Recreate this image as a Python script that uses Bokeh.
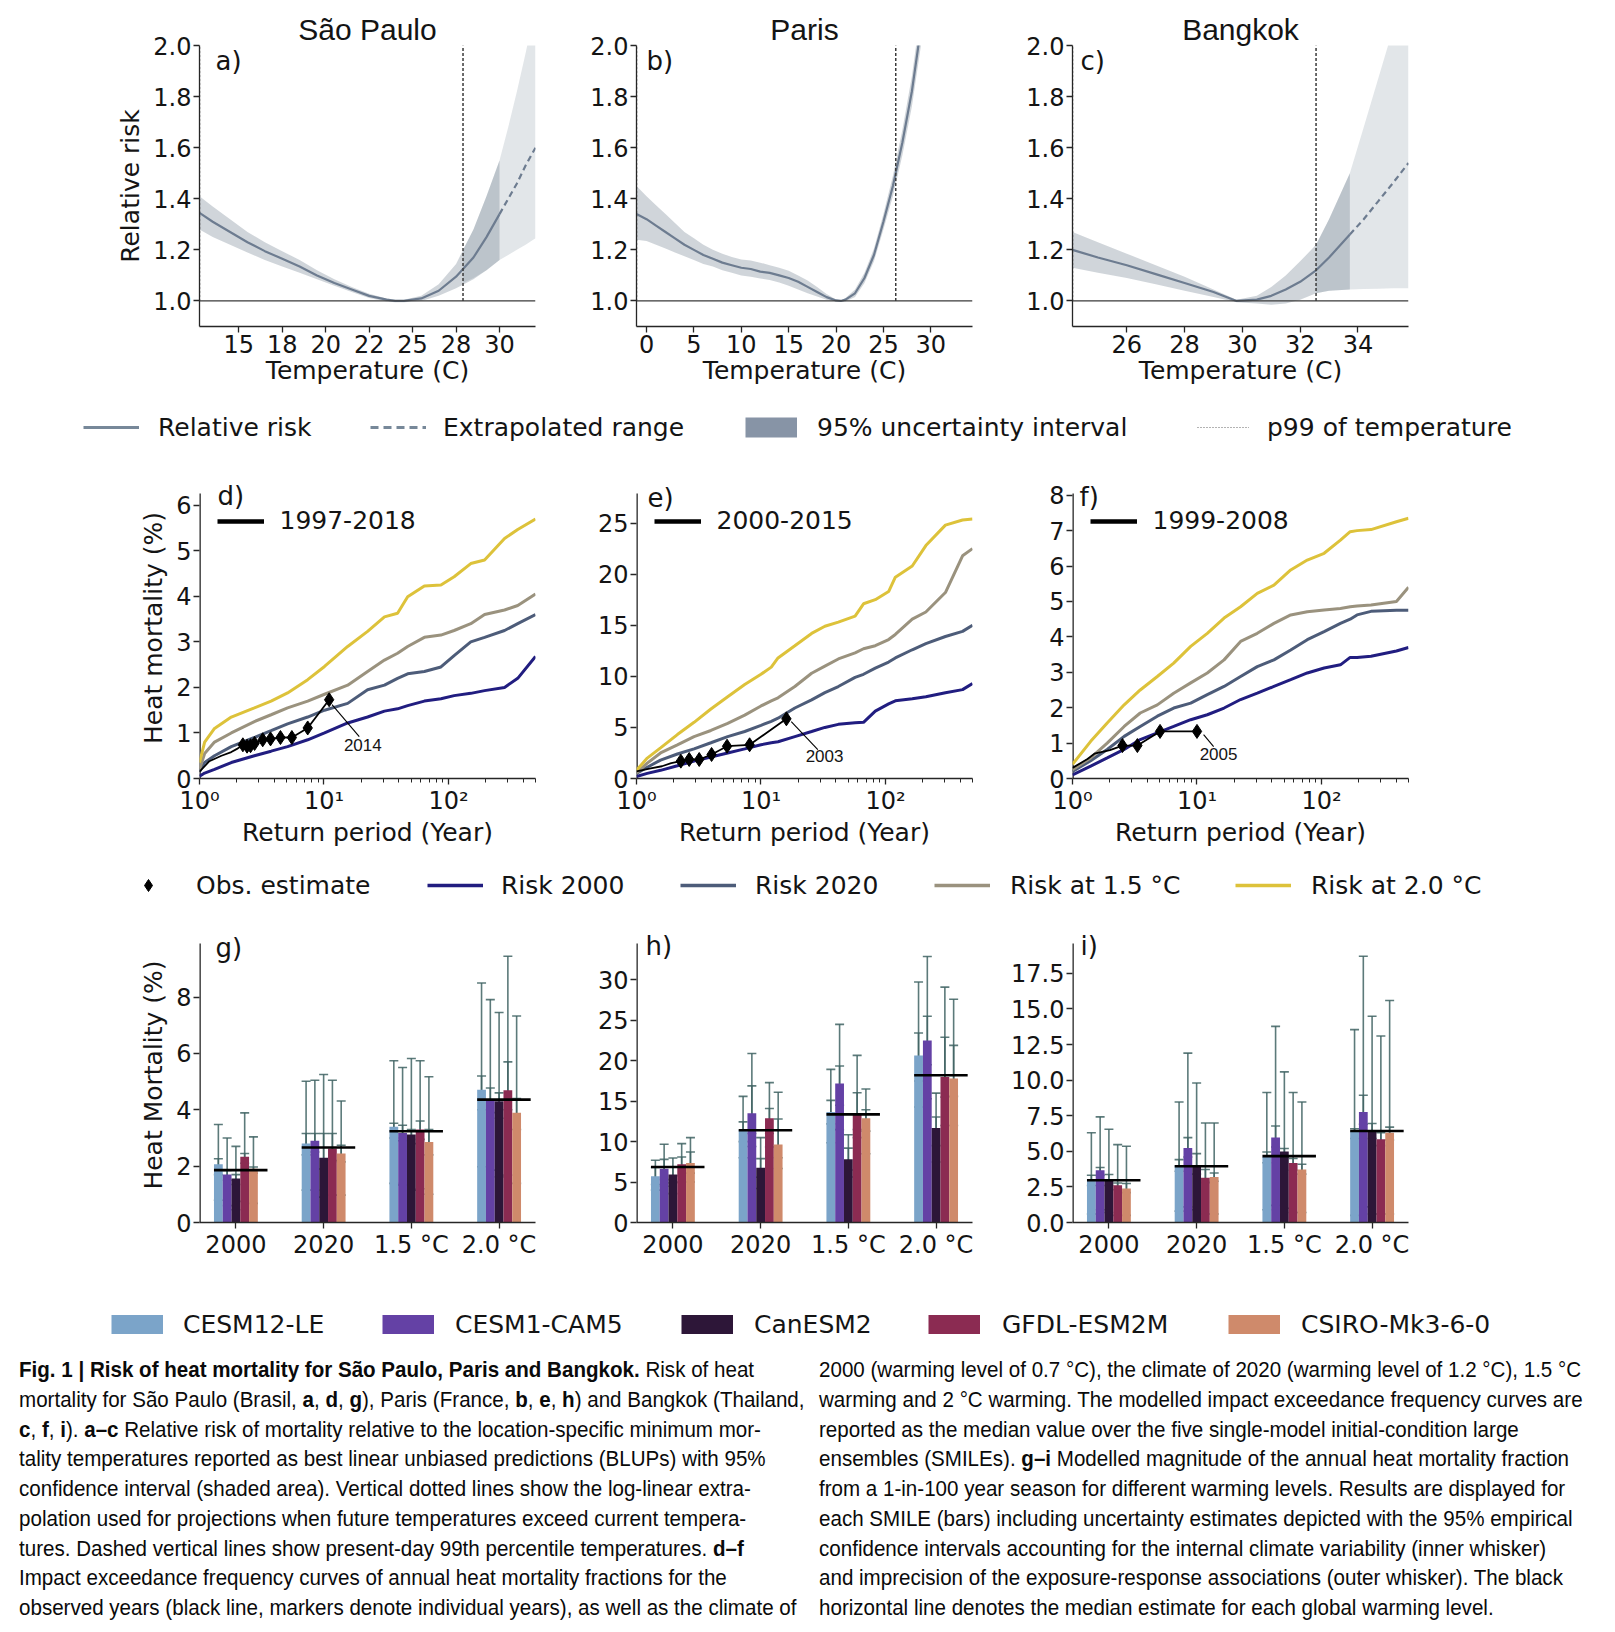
import numpy as np
from bokeh.plotting import figure
from bokeh.layouts import column, row
from bokeh.models import (Range1d, FixedTicker, Label, Legend, LegendItem, Whisker,
                          TeeHead, ColumnDataSource, Div, Span, PrintfTickFormatter)
from bokeh.embed import file_html
from bokeh.resources import INLINE

FONT = "DejaVu Sans"
TFONT = "Liberation Sans"
AX = "#262626"
TXT = "#141414"
SLATE = "#708090"
RR_LINE = "#6d7c90"
NAVY = "#211d80"
SLATE2 = "#4d5c79"
GRAY15 = "#9a927e"
YEL = "#ddc23a"
WH = "#3f6363"
NAN = [float("nan")]

# ---------------- a-c : relative risk ----------------
rr_ticks = [1.0, 1.2, 1.4, 1.6, 1.8, 2.0]

sp_xlim = [12.74, 32.07]
sp_xticks = [15, 17.5, 20, 22.5, 25, 27.5, 30]
sp_xlabels = ["15", "18", "20", "22", "25", "28", "30"]
sp_temp = [12.74, 13.5, 14.5, 15.5, 16.5, 17.5, 18.5, 19.5, 20.5, 21.5, 22.5, 23.5, 24.0, 24.5, 25.5, 26.5, 27.5, 28.5, 29.25, 30.0]
sp_rr = [1.345, 1.31, 1.27, 1.23, 1.195, 1.165, 1.135, 1.10, 1.07, 1.045, 1.02, 1.005, 1.0, 1.0, 1.01, 1.04, 1.095, 1.17, 1.25, 1.34]
sp_lo = [1.28, 1.25, 1.22, 1.19, 1.16, 1.135, 1.11, 1.085, 1.06, 1.035, 1.012, 0.998, 0.995, 0.995, 1.0, 1.02, 1.05, 1.085, 1.12, 1.16]
sp_hi = [1.41, 1.37, 1.32, 1.27, 1.23, 1.195, 1.16, 1.12, 1.085, 1.055, 1.028, 1.01, 1.005, 1.005, 1.02, 1.065, 1.145, 1.28, 1.41, 1.55]
sp_ext_t = [30.0, 30.5, 31.0, 31.5, 32.07]
sp_ext_rr = [1.34, 1.40, 1.46, 1.53, 1.60]
sp_eb_t = [27.9, 28.5, 29.25, 30.0, 30.5, 31.0, 31.5, 32.07]
sp_eb_lo = [1.07, 1.09, 1.12, 1.16, 1.18, 1.20, 1.22, 1.245]
sp_eb_hi = [1.20, 1.28, 1.41, 1.55, 1.68, 1.82, 1.97, 2.15]
sp_p99 = 27.9

pa_xlim = [-1.06, 34.4]
pa_xticks = [0, 5, 10, 15, 20, 25, 30]
pa_xlabels = ["0", "5", "10", "15", "20", "25", "30"]
pa_temp = [-1.06, 0, 1, 2, 3, 4, 5, 6, 7, 8, 9, 10, 11, 12, 13, 14, 15, 16, 17, 18, 19, 20, 20.5, 21, 22, 23, 24, 25, 26, 27, 28, 29, 30]
pa_rr = [1.34, 1.32, 1.295, 1.27, 1.245, 1.22, 1.2, 1.18, 1.165, 1.15, 1.14, 1.13, 1.125, 1.115, 1.11, 1.1, 1.09, 1.075, 1.055, 1.035, 1.015, 1.002, 1.0, 1.005, 1.03, 1.09, 1.18, 1.31, 1.45, 1.62, 1.82, 2.08, 2.4]
pa_lo = [1.24, 1.235, 1.22, 1.205, 1.19, 1.175, 1.16, 1.145, 1.135, 1.12, 1.11, 1.1, 1.095, 1.088, 1.082, 1.072, 1.06, 1.045, 1.03, 1.017, 1.005, 0.998, 0.997, 0.998, 1.015, 1.07, 1.155, 1.28, 1.41, 1.57, 1.76, 2.01, 2.3]
pa_hi = [1.45, 1.41, 1.375, 1.34, 1.305, 1.27, 1.245, 1.22, 1.2, 1.185, 1.172, 1.162, 1.158, 1.15, 1.14, 1.13, 1.118, 1.1, 1.08, 1.055, 1.027, 1.006, 1.003, 1.012, 1.045, 1.11, 1.205, 1.34, 1.49, 1.67, 1.88, 2.15, 2.5]
pa_p99 = 26.3

bk_xlim = [24.12, 35.75]
bk_xticks = [26, 28, 30, 32, 34]
bk_xlabels = ["26", "28", "30", "32", "34"]
bk_temp = [24.12, 25, 26, 27, 28, 29, 29.8, 30.5, 31, 31.5, 32, 32.55, 33, 33.72]
bk_rr = [1.2, 1.17, 1.14, 1.105, 1.07, 1.035, 1.0, 1.005, 1.02, 1.045, 1.075, 1.12, 1.17, 1.26]
bk_lo = [1.13, 1.11, 1.09, 1.065, 1.04, 1.015, 0.995, 0.99, 0.985, 0.99, 1.005, 1.03, 1.04, 1.045]
bk_hi = [1.27, 1.23, 1.185, 1.14, 1.095, 1.045, 1.005, 1.02, 1.055, 1.1, 1.155, 1.22, 1.32, 1.5]
bk_ext_t = [33.72, 34.2, 34.7, 35.2, 35.75]
bk_ext_rr = [1.26, 1.32, 1.39, 1.46, 1.54]
bk_eb_t = [32.55, 33.0, 33.72, 34.2, 34.7, 35.2, 35.75]
bk_eb_lo = [1.03, 1.04, 1.045, 1.047, 1.048, 1.05, 1.05]
bk_eb_hi = [1.22, 1.32, 1.5, 1.68, 1.87, 2.06, 2.25]
bk_p99 = 32.55

# ---------------- d-f : exceedance curves ----------------
d_rp = [1.0, 1.1, 1.32, 1.8, 2.76, 3.76, 5.1, 7.4, 10.1, 15.5, 22.4, 30.6, 39, 47, 64, 87, 111, 151, 195, 282, 360, 500]
d_2000 = [0.05, 0.12, 0.2, 0.35, 0.5, 0.6, 0.7, 0.85, 1.0, 1.22, 1.35, 1.48, 1.53, 1.6, 1.7, 1.75, 1.82, 1.87, 1.93, 2.0, 2.2, 2.68]
d_2020 = [0.15, 0.35, 0.5, 0.7, 0.9, 1.05, 1.2, 1.35, 1.5, 1.65, 1.95, 2.05, 2.2, 2.3, 2.35, 2.45, 2.7, 3.0, 3.1, 3.25, 3.4, 3.6]
d_15 = [0.2, 0.55, 0.8, 1.0, 1.25, 1.4, 1.55, 1.7, 1.85, 2.05, 2.35, 2.6, 2.75, 2.9, 3.1, 3.15, 3.25, 3.4, 3.6, 3.7, 3.8, 4.05]
d_20 = [0.35, 0.8, 1.1, 1.35, 1.55, 1.7, 1.88, 2.17, 2.46, 2.9, 3.23, 3.55, 3.63, 3.99, 4.23, 4.25, 4.43, 4.72, 4.8, 5.27, 5.47, 5.7]
d_obs_rp = [1.0, 1.2, 1.5, 1.8, 2.0, 2.23, 2.41, 2.57, 2.77, 3.22, 3.72, 4.47, 5.52, 7.4, 11.0]
d_obs = [0.15, 0.38, 0.5, 0.58, 0.65, 0.74, 0.71, 0.72, 0.77, 0.85, 0.87, 0.9, 0.9, 1.11, 1.73]
d_first_marker = 5

e_rp = [1.0, 1.22, 1.56, 2.13, 2.9, 3.96, 5.4, 7.4, 10, 12.1, 13.7, 18.7, 25.5, 32.6, 41.8, 57, 66.6, 82.8, 106, 120, 164, 211, 303, 416, 500]
e_2000 = [0.2, 0.5, 0.8, 1.25, 1.7, 2.1, 2.5, 2.9, 3.3, 3.5, 3.6, 4.1, 4.6, 5.0, 5.3, 5.45, 5.5, 6.6, 7.3, 7.6, 7.8, 8.0, 8.4, 8.7, 9.3]
e_2020 = [0.5, 1.1, 1.8, 2.4, 2.9, 3.5, 4.1, 4.6, 5.2, 5.6, 5.9, 6.9, 7.7, 8.4, 9.0, 9.9, 10.2, 10.8, 11.4, 11.8, 12.6, 13.2, 13.9, 14.4, 15.0]
e_15 = [0.55, 1.5, 2.5, 3.3, 4.1, 4.7, 5.4, 6.2, 7.1, 7.6, 7.9, 9.0, 10.3, 11.0, 11.7, 12.3, 12.7, 13.0, 13.6, 14.1, 15.6, 16.3, 18.2, 21.8, 22.5]
e_20 = [0.8, 2.0, 3.0, 4.3, 5.5, 6.8, 8.0, 9.2, 10.2, 10.9, 11.8, 13.0, 14.2, 14.9, 15.3, 15.9, 17.1, 17.5, 18.3, 19.7, 20.8, 22.8, 24.8, 25.3, 25.4]
e_obs_rp = [1.0, 1.3, 1.6, 1.9, 2.27, 2.65, 3.19, 4.01, 5.34, 8.1, 16.0]
e_obs = [0.7, 1.0, 1.2, 1.5, 1.7, 1.86, 1.86, 2.35, 3.16, 3.3, 5.84]
e_first_marker = 4

f_rp = [1.0, 1.4, 1.9, 2.6, 3.5, 4.8, 6.5, 8.9, 12.1, 16.5, 22.4, 30.5, 41.5, 56.6, 76.9, 105, 142, 170, 193, 250, 400, 500]
f_2000 = [0.1, 0.35, 0.58, 0.82, 1.1, 1.29, 1.47, 1.66, 1.8, 1.99, 2.23, 2.41, 2.6, 2.79, 2.98, 3.12, 3.21, 3.42, 3.42, 3.45, 3.6, 3.7]
f_2020 = [0.2, 0.5, 0.82, 1.19, 1.47, 1.76, 1.99, 2.13, 2.37, 2.6, 2.88, 3.16, 3.35, 3.63, 3.92, 4.15, 4.38, 4.5, 4.62, 4.72, 4.75, 4.75]
f_15 = [0.25, 0.58, 1.0, 1.47, 1.85, 2.08, 2.41, 2.7, 2.98, 3.35, 3.87, 4.1, 4.38, 4.62, 4.71, 4.76, 4.8, 4.85, 4.87, 4.9, 5.0, 5.4]
f_20 = [0.4, 1.05, 1.57, 2.08, 2.5, 2.88, 3.26, 3.73, 4.1, 4.53, 4.85, 5.23, 5.46, 5.89, 6.17, 6.36, 6.73, 6.97, 7.0, 7.03, 7.25, 7.35]
f_obs_rp = [1.0, 1.32, 1.5, 2.0, 2.52, 3.32, 5.05, 10.0]
f_obs = [0.3, 0.55, 0.7, 0.8, 0.93, 0.93, 1.33, 1.33]
f_first_marker = 4

# ---------------- g-i : 1-in-100 year bars ----------------
groups = ["2000", "2020", "1.5 °C", "2.0 °C"]
models = ["CESM12-LE", "CESM1-CAM5", "CanESM2", "GFDL-ESM2M", "CSIRO-Mk3-6-0"]
model_colors = ["#7ba4c9", "#6441a5", "#2d1638", "#8b2b52", "#cf8a6b"]

g_val = [[2.07, 1.70, 1.56, 2.33, 1.91], [2.80, 2.90, 2.30, 2.63, 2.45],
         [3.40, 3.18, 3.12, 3.30, 2.86], [4.71, 4.36, 4.30, 4.69, 3.89]]
g_out_hi = [[3.48, 3.00, 2.70, 3.89, 3.04], [5.01, 5.05, 5.25, 5.05, 4.31],
            [5.74, 5.50, 5.82, 5.74, 5.17], [8.50, 7.91, 7.45, 9.45, 7.33]]
g_out_lo = [[0.79, 0.60, 0.45, 0.75, 0.68], [1.15, 1.15, 0.90, 0.97, 0.97],
            [1.39, 1.33, 1.15, 1.20, 1.00], [1.98, 1.86, 1.62, 1.68, 1.39]]
g_in_hi = [[2.26, 1.85, 1.70, 2.45, 1.97], [3.16, 3.16, 3.16, 3.16, 2.74],
           [3.52, 3.45, 3.30, 3.60, 3.30], [5.20, 4.77, 4.60, 5.70, 4.40]]
g_in_lo = [[1.70, 1.50, 1.35, 2.10, 1.75], [2.40, 2.50, 1.90, 2.20, 2.15],
           [3.00, 2.90, 2.80, 2.95, 2.40], [4.00, 3.90, 3.70, 4.00, 3.30]]
g_med = [1.86, 2.66, 3.24, 4.36]

h_val = [[5.71, 6.66, 5.95, 7.19, 7.36], [11.48, 13.5, 6.78, 12.9, 9.66],
         [13.66, 17.2, 7.81, 13.3, 12.9], [20.66, 22.5, 11.69, 18.0, 17.8]]
h_out_hi = [[7.7, 9.67, 7.97, 9.75, 10.5], [15.6, 20.9, 10.5, 17.3, 16.1],
            [18.94, 24.5, 10.86, 20.66, 16.5], [29.73, 32.9, 16.0, 29.1, 27.6]]
h_out_lo = [[4.0, 4.49, 3.57, 5.0, 5.0], [8.0, 9.4, 4.2, 9.33, 6.67],
            [9.87, 11.48, 5.62, 10.5, 8.5], [14.28, 15.3, 7.48, 12.0, 12.0]]
h_in_hi = [[6.8, 7.8, 6.9, 8.1, 8.72], [12.44, 16.9, 7.9, 14.1, 12.8],
           [15.1, 19.35, 9.2, 16.05, 13.95], [23.43, 25.5, 13.04, 22.9, 21.9]]
h_in_lo = [[4.7, 5.3, 4.9, 5.8, 6.1], [10.0, 11.0, 5.6, 11.0, 8.0],
           [12.2, 14.5, 6.5, 11.5, 11.3], [17.5, 19.5, 9.5, 15.5, 15.6]]
h_med = [6.86, 11.4, 13.37, 18.2]

i_val = [[2.97, 3.67, 2.97, 2.62, 2.38], [4.02, 5.24, 4.02, 3.15, 3.20],
         [4.61, 5.97, 4.99, 4.18, 3.72], [6.40, 7.77, 6.40, 5.85, 6.30]]
i_out_hi = [[6.30, 7.42, 6.55, 5.47, 5.36], [8.47, 11.9, 9.80, 6.99, 6.99],
            [9.13, 13.78, 10.58, 9.13, 8.47], [13.55, 18.7, 14.49, 13.1, 15.6]]
i_out_lo = [[0.6, 0.9, 0.7, 0.5, 0.5], [0.8, 1.1, 0.9, 0.6, 0.6],
            [0.9, 1.2, 1.0, 0.7, 0.7], [0.5, 1.1, 0.6, 0.6, 0.6]]
i_in_hi = [[3.32, 3.86, 3.37, 2.78, 2.74], [4.42, 5.96, 4.84, 3.72, 3.48],
           [4.95, 6.78, 5.20, 4.50, 4.09], [6.59, 8.94, 6.95, 6.30, 6.70]]
i_in_lo = [[2.6, 3.3, 2.6, 2.3, 2.1], [3.6, 4.6, 3.4, 2.8, 2.9],
           [4.2, 5.3, 4.6, 3.67, 3.4], [5.9, 6.9, 5.9, 5.4, 5.8]]
i_med = [2.97, 3.95, 4.66, 6.43]

bar_offsets = [-0.2, -0.1, 0.0, 0.1, 0.2]

cap_left = [
    "<b>Fig. 1 | Risk of heat mortality for São Paulo, Paris and Bangkok.</b> Risk of heat",
    "mortality for São Paulo (Brasil, <b>a</b>, <b>d</b>, <b>g</b>), Paris (France, <b>b</b>, <b>e</b>, <b>h</b>) and Bangkok (Thailand,",
    "<b>c</b>, <b>f</b>, <b>i</b>). <b>a–c</b> Relative risk of mortality relative to the location-specific minimum mor-",
    "tality temperatures reported as best linear unbiased predictions (BLUPs) with 95%",
    "confidence interval (shaded area). Vertical dotted lines show the log-linear extra-",
    "polation used for projections when future temperatures exceed current tempera-",
    "tures. Dashed vertical lines show present-day 99th percentile temperatures. <b>d–f</b>",
    "Impact exceedance frequency curves of annual heat mortality fractions for the",
    "observed years (black line, markers denote individual years), as well as the climate of",
]
cap_right = [
    "2000 (warming level of 0.7 °C), the climate of 2020 (warming level of 1.2 °C), 1.5 °C",
    "warming and 2 °C warming. The modelled impact exceedance frequency curves are",
    "reported as the median value over the five single-model initial-condition large",
    "ensembles (SMILEs). <b>g–i</b> Modelled magnitude of the annual heat mortality fraction",
    "from a 1-in-100 year season for different warming levels. Results are displayed for",
    "each SMILE (bars) including uncertainty estimates depicted with the 95% empirical",
    "confidence intervals accounting for the internal climate variability (inner whisker)",
    "and imprecision of the exposure-response associations (outer whisker). The black",
    "horizontal line denotes the median estimate for each global warming level.",
]

FW = 336   # frame width of every panel
EXT = 16   # extra frame pixels above the d-i axes, so the panel letters are not clipped


def base_fig(w, h, L, R, T, B, xr, yr, xtype="linear"):
    p = figure(width=w, height=h, x_range=xr, y_range=yr, x_axis_type=xtype,
               output_backend="svg", toolbar_location=None,
               min_border_left=L, min_border_right=R, min_border_top=T, min_border_bottom=B)
    p.outline_line_color = None
    p.xgrid.visible = False
    p.ygrid.visible = False
    p.border_fill_color = "white"
    for ax in (p.xaxis[0], p.yaxis[0]):
        ax.axis_line_color = AX
        ax.axis_line_width = 1.3
        ax.major_tick_line_color = AX
        ax.major_tick_line_width = 1.3
        ax.major_tick_out = 6
        ax.major_tick_in = 0
        ax.minor_tick_line_color = None
        ax.major_label_text_font = FONT
        ax.major_label_text_font_size = "24px"
        ax.major_label_text_color = TXT
        ax.major_label_standoff = 2
        ax.axis_label_text_font = FONT
        ax.axis_label_text_font_size = "25px"
        ax.axis_label_text_font_style = "normal"
        ax.axis_label_text_color = TXT
    p.xaxis.axis_label_standoff = 0
    p.yaxis.axis_label_standoff = 5
    return p


def short_spine(p, x0, ymax):
    # left spine that stops at the top of the axis (frame extends a bit higher)
    p.yaxis.axis_line_color = None
    p.segment(x0=[x0], y0=[0], x1=[x0], y1=[ymax], line_color=AX, line_width=2.6)


def fx(xr, px, log=False):
    s, e = xr
    if log:
        return 10 ** (np.log10(s) + px / FW * (np.log10(e) - np.log10(s)))
    return s + px / FW * (e - s)


def fy(yr, px, fh):
    s, e = yr
    return e - px / fh * (e - s)


def letter_label(text, x, y):
    return Label(x=x, y=y, text=text, text_font=FONT, text_font_size="26px",
                 text_color=TXT, text_baseline="middle", text_align="left")


def top_panel(w, L, xlim, xticks, xlabels, temp, rr, lo, hi, ext_t, ext_rr,
              eb_t, eb_lo, eb_hi, p99, title, letter, ldx, ylabel=None):
    FH = 281
    ylim = (0.9, 2.0)
    p = base_fig(w, 395, L, 20, 45, 69, Range1d(*xlim), Range1d(*ylim))
    p.title.text = title
    p.title.align = "center"
    p.title.text_font = TFONT
    p.title.text_font_size = "30px"
    p.title.text_font_style = "normal"
    p.title.text_color = TXT
    p.title.standoff = 0
    p.xaxis.ticker = FixedTicker(ticks=xticks)
    p.xaxis.major_label_overrides = dict(zip(xticks, xlabels))
    p.yaxis.ticker = FixedTicker(ticks=rr_ticks)
    p.yaxis.formatter = PrintfTickFormatter(format="%.1f")
    p.xaxis.axis_label = "Temperature (C)"
    if ylabel:
        p.yaxis.axis_label = ylabel
    if eb_t:
        p.varea(x=eb_t, y1=eb_lo, y2=eb_hi, fill_color=SLATE, fill_alpha=0.2)
    p.varea(x=temp, y1=lo, y2=hi, fill_color=SLATE, fill_alpha=0.33)
    p.line(temp, rr, line_color=RR_LINE, line_width=2.2)
    if ext_t:
        p.line(ext_t, ext_rr, line_color=RR_LINE, line_width=2.2, line_dash="6 4")
    p.add_layout(Span(location=1.0, dimension="width", line_color="#3a3a3a", line_width=1.3))
    p.segment(x0=[p99], y0=[1.0], x1=[p99], y1=[2.0], line_color="#3a3a3a",
              line_width=1.5, line_dash="3 2")
    p.segment(x0=[xlim[0]], y0=[1.0], x1=[xlim[0]], y1=[2.0], line_color="#777777",
              line_width=1.5, line_dash="2 2")
    p.add_layout(letter_label(letter, fx(xlim, ldx), fy(ylim, 15, FH)))
    return p


def rp_panel(w, L, ymax, yticks, rp, c2000, c2020, c15, c20, obs_rp, obs, first_marker,
             period, letter, ldx, ldy, ann, ann_xy, lead, ylabel=None):
    FH = 286
    xlim = (1, 500)
    ytop = ymax * (FH + EXT) / FH
    p = base_fig(w, 389, L, 20, 33 - EXT, 70, Range1d(*xlim), Range1d(0, ytop), "log")
    short_spine(p, xlim[0], ymax)
    p.xaxis.ticker = FixedTicker(ticks=[1, 10, 100],
                                 minor_ticks=[2, 3, 4, 5, 6, 7, 8, 9, 20, 30, 40, 50, 60, 70, 80, 90,
                                              200, 300, 400, 500])
    p.xaxis.major_label_overrides = {1: "10⁰", 10: "10¹", 100: "10²"}
    p.xaxis.minor_tick_line_color = AX
    p.xaxis.minor_tick_out = 4
    p.xaxis.minor_tick_in = 0
    p.yaxis.ticker = FixedTicker(ticks=yticks)
    p.xaxis.axis_label = "Return period (Year)"
    if ylabel:
        p.yaxis.axis_label = ylabel
    for ys, col in ((c2000, NAVY), (c2020, SLATE2), (c15, GRAY15), (c20, YEL)):
        p.line(rp, ys, line_color=col, line_width=3)
    p.line(obs_rp, obs, line_color="black", line_width=1.8)
    p.scatter(obs_rp[first_marker:], obs[first_marker:], marker="diamond", size=14,
              fill_color="black", line_color="black")
    p.segment(x0=[lead[0]], y0=[lead[1]], x1=[lead[2]], y1=[lead[3]],
              line_color="black", line_width=1.1)
    p.add_layout(Label(x=ann_xy[0], y=ann_xy[1], text=ann, text_font=TFONT,
                       text_font_size="17px", text_color=TXT, text_align="center",
                       text_baseline="middle"))
    p.add_layout(letter_label(letter, fx(xlim, ldx, log=True), fy((0, ymax), ldy, FH)))
    r = p.line(NAN, NAN, line_color="black", line_width=4.5)
    leg = Legend(items=[LegendItem(label=period, renderers=[r])],
                 location=(17.5, FH - 28.7 - 15), glyph_width=47, glyph_height=30,
                 label_height=30, label_standoff=16, padding=0, margin=0,
                 border_line_color=None, background_fill_alpha=0,
                 label_text_font=FONT, label_text_font_size="25px", label_text_color=TXT)
    p.add_layout(leg)
    return p


def bar_panel(w, L, ymax, yticks, yfmt, vals, in_lo, in_hi, out_lo, out_hi, med,
              letter, ldx, ldy, ylabel=None):
    FH = 279
    xlim = (-0.415, 3.415)
    ytop = ymax * (FH + EXT) / FH
    p = base_fig(w, 342, L, 20, 23 - EXT, 40, Range1d(*xlim), Range1d(0, ytop))
    short_spine(p, xlim[0], ymax)
    gx = np.arange(len(groups))
    p.xaxis.ticker = FixedTicker(ticks=list(range(len(groups))))
    p.xaxis.major_label_overrides = {i: g for i, g in enumerate(groups)}
    p.yaxis.ticker = FixedTicker(ticks=yticks)
    if yfmt:
        p.yaxis.formatter = PrintfTickFormatter(format=yfmt)
    if ylabel:
        p.yaxis.axis_label = ylabel
    for m in range(len(models)):
        xs = gx + bar_offsets[m]
        p.vbar(x=xs, top=[r[m] for r in vals], width=0.1, fill_color=model_colors[m],
               line_color=None)
    p.segment(x0=gx - 0.25, x1=gx + 0.36, y0=med, y1=med, line_color="black", line_width=2.6)
    for m in range(len(models)):
        xs = gx + bar_offsets[m]
        for lo_, hi_ in ((out_lo, out_hi), (in_lo, in_hi)):
            src = ColumnDataSource(dict(base=xs, lower=[r[m] for r in lo_],
                                        upper=[r[m] for r in hi_]))
            wsk = Whisker(source=src, base="base", lower="lower", upper="upper",
                          dimension="height", line_color=WH, line_alpha=0.85, line_width=1.6,
                          upper_head=TeeHead(size=9, line_color=WH, line_alpha=0.85, line_width=1.6),
                          lower_head=TeeHead(size=9, line_color=WH, line_alpha=0.85, line_width=1.6))
            p.add_layout(wsk)
    p.add_layout(letter_label(letter, fx(xlim, ldx), fy((0, ymax), ldy, FH)))
    return p


# ---------------- panels ----------------
pa = top_panel(555, 199, sp_xlim, sp_xticks, sp_xlabels, sp_temp, sp_rr, sp_lo, sp_hi,
               sp_ext_t, sp_ext_rr, sp_eb_t, sp_eb_lo, sp_eb_hi, sp_p99, "São Paulo", "a)", 16,
               ylabel="Relative risk")
pb = top_panel(437, 81, pa_xlim, pa_xticks, pa_xlabels, pa_temp, pa_rr, pa_lo, pa_hi,
               None, None, None, None, None, pa_p99, "Paris", "b)", 10)
pc = top_panel(436, 80, bk_xlim, bk_xticks, bk_xlabels, bk_temp, bk_rr, bk_lo, bk_hi,
               bk_ext_t, bk_ext_rr, bk_eb_t, bk_eb_lo, bk_eb_hi, bk_p99, "Bangkok", "c)", 8)

pd_ = rp_panel(555, 199, 6.26, [0, 1, 2, 3, 4, 5, 6], d_rp, d_2000, d_2020, d_15, d_20,
               d_obs_rp, d_obs, d_first_marker, "1997-2018", "d)", 18, 3, "2014",
               (20.5, 0.74), (11.6, 1.62, 19.2, 0.92), ylabel="Heat mortality (%)")
pe = rp_panel(437, 81, 27.9, [0, 5, 10, 15, 20, 25], e_rp, e_2000, e_2020, e_15, e_20,
              e_obs_rp, e_obs, e_first_marker, "2000-2015", "e)", 11, 5, "2003",
              (32.4, 2.18), (17.5, 5.57, 28.6, 2.83))
pf = rp_panel(436, 80, 8.05, [0, 1, 2, 3, 4, 5, 6, 7, 8], f_rp, f_2000, f_2020, f_15, f_20,
              f_obs_rp, f_obs, f_first_marker, "1999-2008", "f)", 7, 4, "2005",
              (14.9, 0.68), (11.3, 1.24, 13.6, 0.9))

pg = bar_panel(555, 199, 9.9, [0, 2, 4, 6, 8], None, g_val, g_in_lo, g_in_hi, g_out_lo, g_out_hi,
               g_med, "g)", 16, 4, ylabel="Heat Mortality (%)")
ph = bar_panel(437, 81, 34.5, [0, 5, 10, 15, 20, 25, 30], None, h_val, h_in_lo, h_in_hi,
               h_out_lo, h_out_hi, h_med, "h)", 9, 2)
pi = bar_panel(436, 80, 19.6, [0, 2.5, 5, 7.5, 10, 12.5, 15, 17.5], "%.1f", i_val, i_in_lo,
               i_in_hi, i_out_lo, i_out_hi, i_med, "i)", 8, 2)


# ---------------- legends ----------------
def legend_fig(h, cy, entries):
    p = figure(width=1615, height=h, x_range=Range1d(0, 1), y_range=Range1d(0, 1),
               x_axis_location=None, y_axis_location=None, output_backend="svg",
               toolbar_location=None, min_border_left=0, min_border_right=0,
               min_border_top=0, min_border_bottom=0)
    p.outline_line_color = None
    p.grid.visible = False
    for r, label, gx, tx, gw in entries:
        r_ = r(p)
        leg = Legend(items=[LegendItem(label=label, renderers=[r_])],
                     location=(gx, h - cy - 15), glyph_width=gw, glyph_height=30,
                     label_height=30, label_standoff=tx - gx - gw, padding=0, margin=0,
                     border_line_color=None, background_fill_alpha=0,
                     label_text_font=FONT, label_text_font_size="25px", label_text_color=TXT)
        p.add_layout(leg)
    return p


def mk_line(color, width=3, dash="solid"):
    return lambda p: p.line(NAN, NAN, line_color=color, line_width=width, line_dash=dash,
                            line_cap="butt")


leg1 = legend_fig(65, 32, [
    (mk_line("#778899", 3), "Relative risk", 83, 158, 56),
    (mk_line("#778899", 3, "8 5"), "Extrapolated range", 370, 443, 56),
    (mk_line("#8794a6", 20), "95% uncertainty interval", 745, 817, 52),
    (mk_line("#666666", 1, "1 2"), "p99 of temperature", 1197, 1267, 52),
])
leg2 = legend_fig(71, 36, [
    (lambda p: p.scatter(NAN, NAN, marker="diamond", size=16, fill_color="black",
                         line_color="black"),
     "Obs. estimate", 120, 196, 56),
    (mk_line(NAVY, 3.5), "Risk 2000", 427, 501, 56),
    (mk_line(SLATE2, 3.5), "Risk 2020", 680, 755, 56),
    (mk_line(GRAY15, 3.5), "Risk at 1.5 °C", 934, 1010, 56),
    (mk_line(YEL, 3.5), "Risk at 2.0 °C", 1235, 1311, 56),
])
leg3 = legend_fig(83, 62, [
    (mk_line(model_colors[0], 19), models[0], 111, 183, 52),
    (mk_line(model_colors[1], 19), models[1], 382, 455, 52),
    (mk_line(model_colors[2], 19), models[2], 681, 754, 52),
    (mk_line(model_colors[3], 19), models[3], 928, 1002, 52),
    (mk_line(model_colors[4], 19), models[4], 1228, 1301, 52),
])

# ---------------- caption ----------------
cap_style = ("font-family:'Liberation Sans Narrow','Liberation Sans',sans-serif;"
             "font-size:22px;line-height:29.75px;color:#0a0a0a;white-space:nowrap;"
             "transform:scaleX(0.935);transform-origin:0 0;")
cap_html = ('<div style="position:relative;width:1615px;height:279px;">'
            f'<div style="position:absolute;left:14px;top:5px;{cap_style}">'
            + "<br>".join(cap_left) + "</div>"
            f'<div style="position:absolute;left:814px;top:5px;{cap_style}">'
            + "<br>".join(cap_right) + "</div></div>")
cap = Div(text=cap_html, width=1615, height=279)

layout = column(row(pa, pb, pc), leg1, row(pd_, pe, pf), leg2, row(pg, ph, pi), leg3, cap)

open("out.html", "w").write(file_html(layout, INLINE))
